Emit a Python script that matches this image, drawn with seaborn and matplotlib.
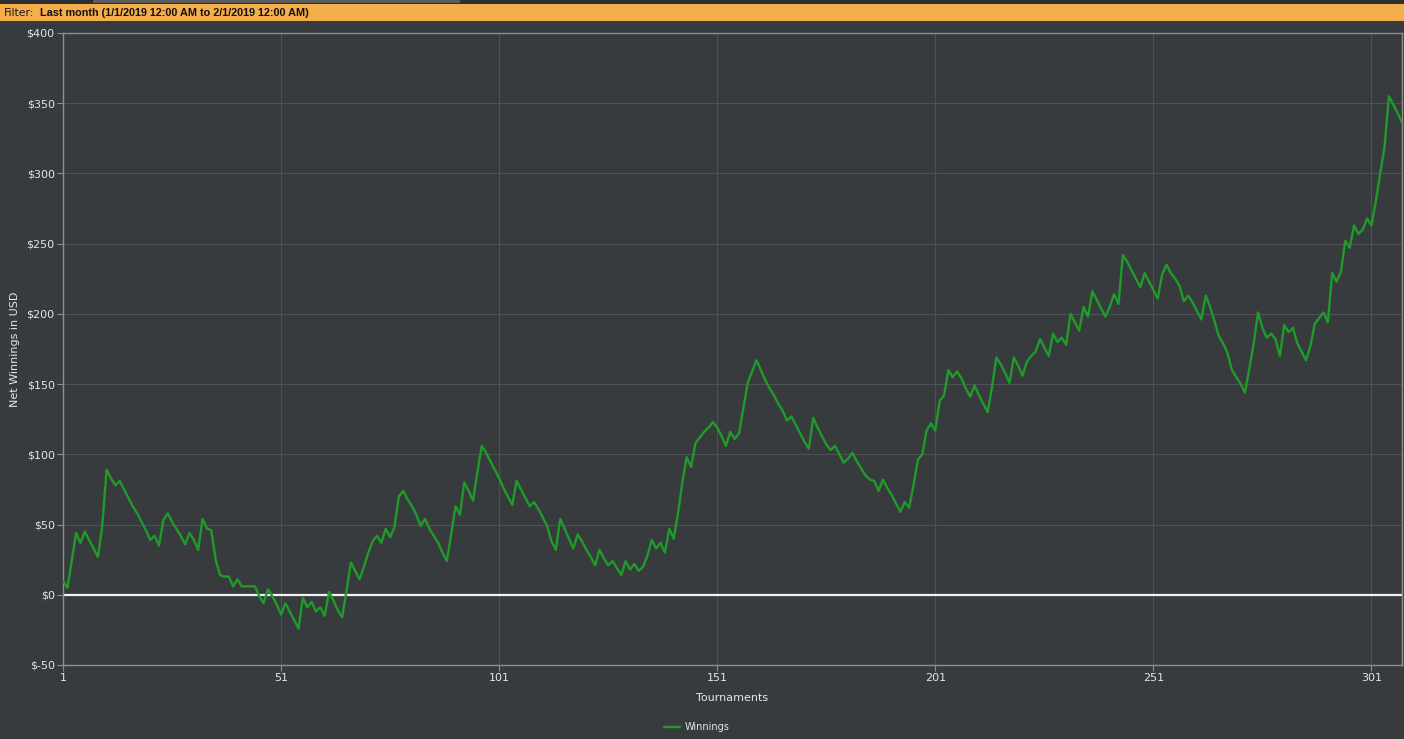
import numpy as np
import pandas as pd
import matplotlib
matplotlib.use("Agg")
import matplotlib.pyplot as plt
import matplotlib.patches as mpatches
from matplotlib.ticker import FuncFormatter
import seaborn as sns

# ===========================================================================
# DATA
# ===========================================================================
winnings = [
    10, 5, 24, 44, 37, 45, 39, 33, 27, 49,
    89, 83, 78, 81, 75, 69, 63, 58, 52, 46,
    39, 42, 35, 53, 58, 52, 47, 42, 36, 44,
    39, 32, 54, 47, 46, 25, 14, 13, 13, 6,
    11, 6, 6, 6, 6, -1, -6, 4, -1, -7,
    -14, -6, -12, -18, -24, -2, -9, -5, -12, -9,
    -15, 2, -4, -11, -16, 3, 23, 17, 11, 20,
    30, 38, 42, 37, 47, 41, 48, 70, 74, 68,
    63, 57, 49, 54, 47, 42, 37, 30, 24, 43,
    63, 57, 80, 74, 67, 87, 106, 101, 95, 89,
    83, 76, 70, 64, 81, 75, 69, 63, 66, 61,
    55, 49, 38, 32, 54, 47, 40, 33, 43, 38,
    32, 27, 21, 32, 26, 21, 24, 19, 14, 24,
    18, 22, 17, 20, 28, 39, 33, 37, 30, 47,
    40, 58, 80, 98, 91, 108, 112, 116, 119, 123,
    119, 113, 106, 116, 111, 115, 133, 151, 159, 167,
    160, 153, 147, 142, 136, 131, 124, 127, 121, 115,
    109, 104, 126, 119, 113, 107, 103, 106, 100, 94,
    97, 101, 95, 90, 85, 82, 81, 74, 82, 76,
    71, 65, 59, 66, 62, 78, 96, 100, 117, 122,
    117, 138, 142, 160, 155, 159, 154, 147, 141, 149,
    142, 136, 130, 148, 169, 164, 158, 151, 169, 163,
    156, 166, 170, 173, 182, 176, 170, 186, 180, 183,
    178, 200, 194, 188, 205, 198, 216, 210, 204, 198,
    205, 214, 207, 242, 237, 231, 225, 219, 229, 223,
    217, 211, 228, 235, 229, 225, 220, 209, 213, 208,
    202, 196, 213, 205, 195, 184, 179, 172, 160, 155,
    150, 144, 161, 179, 201, 190, 183, 186, 182, 170,
    192, 187, 190, 179, 173, 167, 177, 193, 197, 201,
    194, 229, 223, 230, 252, 247, 263, 257, 260, 268,
    263, 280, 300, 319, 355, 349, 343, 336,
]
tournaments = list(range(1, len(winnings) + 1))

x_ticks = [1, 51, 101, 151, 201, 251, 301]
y_ticks = [-50, 0, 50, 100, 150, 200, 250, 300, 350, 400]

filter_label = "Filter:"
filter_text = "Last month (1/1/2019 12:00 AM to 2/1/2019 12:00 AM)"

df = pd.DataFrame({"Tournaments": tournaments, "Winnings": winnings})

# ===========================================================================
# STYLE
# ===========================================================================
BG = "#383b3e"
GRID = "#4e5256"
SPINE = "#8e8f90"
TEXT = "#e6e6e6"
GREEN = "#1f9b2a"
ORANGE = "#f4ae4a"

sns.set_theme(style="dark")
plt.rcParams["font.family"] = ["DejaVu Sans"]

W, H = 1404, 739
fig = plt.figure(figsize=(W / 100, H / 100), dpi=100, facecolor=BG)
ax = fig.add_axes([63 / W, 1 - 665 / H, (1402 - 63) / W, (665 - 33) / H])
ax.set_facecolor(BG)

# header strip + orange filter bar
fig.patches.append(mpatches.Rectangle((0, 1 - 4 / H), 1, 4 / H, transform=fig.transFigure,
                                      facecolor="#2d3033", edgecolor="none", zorder=0))
fig.patches.append(mpatches.Rectangle((93 / W, 1 - 3 / H), (460 - 93) / W, 3 / H,
                                      transform=fig.transFigure,
                                      facecolor="#5a5d60", edgecolor="none", zorder=0))
fig.patches.append(mpatches.Rectangle((0, 1 - 21 / H), 1, 17 / H, transform=fig.transFigure,
                                      facecolor=ORANGE, edgecolor="none", zorder=0))
fig.text(4 / W, 1 - 12.5 / H, filter_label, fontsize=7.8, color="#1a1a1a",
         family="DejaVu Sans", va="center", ha="left")
fig.text(40 / W, 1 - 12.5 / H, filter_text, fontsize=7.8, color="#111111",
         family="Liberation Sans", fontweight="bold", va="center", ha="left")

# ===========================================================================
# PLOT
# ===========================================================================
ax.axhline(0, color="#f2f2f2", lw=1.6, zorder=2)
sns.lineplot(data=df, x="Tournaments", y="Winnings", ax=ax, color=GREEN,
             lw=1.7, label="Winnings", zorder=3)

ax.set_xlim(1, len(winnings))
ax.set_ylim(-50, 400)
ax.set_xticks(x_ticks)
ax.set_yticks(y_ticks)
ax.yaxis.set_major_formatter(FuncFormatter(lambda v, p: f"${v:.0f}"))

ax.grid(True, color=GRID, lw=0.8)
ax.set_axisbelow(True)
for s in ax.spines.values():
    s.set_visible(True)
    s.set_color(SPINE)
    s.set_linewidth(1)

ax.tick_params(axis="both", colors=SPINE, labelcolor=TEXT, labelsize=8,
               length=4, width=0.8, direction="out", pad=2, bottom=True, left=True)
ax.set_xlabel("Tournaments", color=TEXT, fontsize=8, labelpad=7)
ax.set_ylabel("Net Winnings in USD", color=TEXT, fontsize=8, labelpad=5)

handles, labels = ax.get_legend_handles_labels()
ax.get_legend().remove()
fig.legend(handles, labels, loc="center", bbox_to_anchor=(697 / W, 1 - 727 / H),
           frameon=False, fontsize=7, labelcolor=TEXT, handlelength=1.6,
           handletextpad=0.5)

fig.savefig("out.png", dpi=100, facecolor=BG)
